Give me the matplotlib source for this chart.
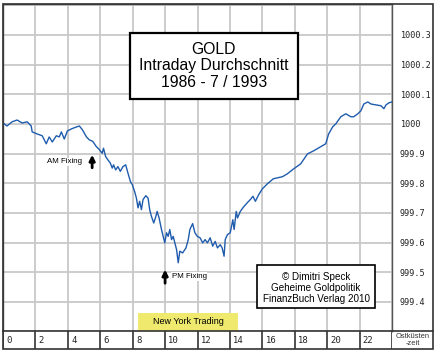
import matplotlib
matplotlib.use("Agg")
import matplotlib.pyplot as plt
from matplotlib.patches import Rectangle
import numpy as np

#---------------- data ------------
# Stunde (Ostkuestenzeit) und Index
stunden = [0.00, 0.25, 0.56, 0.87, 1.18, 1.49, 1.74, 1.80, 2.11, 2.42, 2.67, 2.85,
           3.04, 3.29, 3.47, 3.60, 3.78, 3.97, 4.22, 4.40, 4.71, 4.90, 5.15,
           5.33, 5.54, 5.75, 5.95, 6.12, 6.20, 6.33, 6.47, 6.62, 6.74, 6.82, 6.95,
           7.09, 7.24, 7.40, 7.57, 7.71, 7.86, 7.98, 8.12, 8.23, 8.33, 8.43, 8.54,
           8.64, 8.81, 8.95, 9.05, 9.16, 9.30, 9.43, 9.51, 9.63, 9.78, 9.88, 9.98,
           10.09, 10.19, 10.29, 10.40, 10.50, 10.60, 10.71, 10.81, 10.91, 11.08, 11.29, 11.43,
           11.53, 11.70, 11.84, 11.99, 12.16, 12.32, 12.47, 12.61, 12.78, 12.94, 13.09, 13.23,
           13.40, 13.52, 13.64, 13.71, 13.85, 14.02, 14.18, 14.26, 14.39, 14.47, 14.64, 14.84,
           15.05, 15.26, 15.42, 15.57, 15.77, 16.00, 16.31, 16.68, 17.24, 17.55, 17.92,
           18.36, 18.79, 19.16, 19.60, 19.91, 20.09, 20.34, 20.53, 20.84, 21.15, 21.46, 21.64,
           21.89, 22.08, 22.26, 22.51, 22.70, 23.01, 23.32, 23.50, 23.63, 23.81, 24.00]
index = [1000.003, 999.993, 1000.007, 1000.013, 1000.003, 1000.007, 999.993, 999.973, 999.966, 999.960, 999.933, 999.956,
         999.939, 999.960, 999.956, 999.973, 999.949, 999.976, 999.983, 999.987, 999.993, 999.980, 999.956,
         999.946, 999.941, 999.924, 999.913, 999.901, 999.918, 999.890, 999.879, 999.868, 999.851, 999.862, 999.845,
         999.856, 999.840, 999.856, 999.862, 999.834, 999.806, 999.795, 999.772, 999.750, 999.717, 999.739, 999.711,
         999.745, 999.758, 999.750, 999.711, 999.688, 999.666, 999.688, 999.705, 999.683, 999.644, 999.621, 999.599,
         999.633, 999.621, 999.644, 999.610, 999.621, 999.599, 999.576, 999.532, 999.571, 999.565, 999.582, 999.610,
         999.644, 999.664, 999.633, 999.621, 999.616, 999.599, 999.610, 999.599, 999.616, 999.588, 999.604, 999.582,
         999.593, 999.582, 999.554, 999.610, 999.627, 999.633, 999.677, 999.644, 999.705, 999.683, 999.705, 999.720,
         999.733, 999.745, 999.756, 999.739, 999.761, 999.781, 999.798, 999.815, 999.822, 999.832, 999.848,
         999.865, 999.899, 999.909, 999.923, 999.933, 999.966, 999.990, 1000.000, 1000.024, 1000.034, 1000.024, 1000.024,
         1000.034, 1000.044, 1000.067, 1000.074, 1000.067, 1000.064, 1000.061, 1000.051, 1000.064, 1000.071, 1000.074]

x_ticks = list(range(0, 24, 2))
y_ticks = [999.4, 999.5, 999.6, 999.7, 999.8, 999.9, 1000.0, 1000.1, 1000.2, 1000.3]
y_labels = ["999.4", "999.5", "999.6", "999.7", "999.8", "999.9", "1000", "1000.1", "1000.2", "1000.3"]

am_fixing = 5.5
pm_fixing = 10.0
ny_trading = (8.33, 14.5)

#---------------- plot ------------
W, H = 440, 352
fig = plt.figure(figsize=(4.4, 3.52), dpi=100)

def fx(px):
    return px / W

def fy(py):
    return 1 - py / H

ax = fig.add_axes([fx(3), fy(331), fx(392) - fx(3), fy(4) - fy(331)])
ax.plot(stunden, index, color="#1f5cae", lw=1.0, zorder=3)
ax.set_xlim(0, 24)
ax.set_ylim(999.302, 1000.404)
ax.set_xticks(list(range(0, 25, 2)))
ax.set_yticks(y_ticks + [1000.4])
ax.grid(True, color="#c8c8c8", lw=1.3, zorder=0)
ax.set_axisbelow(True)
ax.set_yticklabels(y_labels + [""], family="DejaVu Sans Mono", fontsize=6.1, color="#222222")
ax.tick_params(axis="x", length=0, labelbottom=False)
ax.tick_params(axis="y", length=0, left=False, right=False, labelleft=False, labelright=True, pad=5.6)
for s in ax.spines.values():
    s.set_color("#555555")
    s.set_linewidth(1.0)

# titel
ax.add_patch(Rectangle((0.3265, 0.7095), 0.4315, 0.2015, transform=ax.transAxes,
                       facecolor="white", edgecolor="black", lw=1.6, zorder=5))
ax.text(0.542, 0.811, "GOLD\nIntraday Durchschnitt\n1986 - 7 / 1993", transform=ax.transAxes,
        ha="center", va="center", family="Liberation Sans", fontsize=11.3,
        linespacing=1.12, zorder=6)

# copyright
ax.add_patch(Rectangle(((257 - 3) / 389, (331 - 308) / 327), 118 / 389, 43 / 327,
                       transform=ax.transAxes, facecolor="white", edgecolor="black", lw=1.2, zorder=5))
ax.text((316 - 3) / 389, (331 - 288) / 327, "© Dimitri Speck\nGeheime Goldpolitik\nFinanzBuch Verlag 2010",
        transform=ax.transAxes, ha="center", va="center", family="Liberation Sans",
        fontsize=7.1, linespacing=1.1, zorder=6)

# fixings
pfeil = dict(arrowstyle="-|>", lw=2.0, color="black", mutation_scale=8, shrinkA=0, shrinkB=0)
ax.annotate("", xy=(am_fixing, 999.896), xytext=(am_fixing, 999.852), arrowprops=pfeil, zorder=6)
ax.text(am_fixing - 0.6, 999.872, "AM Fixing", ha="right", va="center", family="Liberation Sans",
        fontsize=5.7, zorder=6, bbox=dict(facecolor="white", edgecolor="none", pad=0.5))
ax.annotate("", xy=(pm_fixing, 999.509), xytext=(pm_fixing, 999.463), arrowprops=pfeil, zorder=6)
ax.text(pm_fixing + 0.4, 999.485, "PM Fixing", ha="left", va="center", family="Liberation Sans",
        fontsize=5.7, zorder=6, bbox=dict(facecolor="white", edgecolor="none", pad=0.5))

# new york trading
y0, y1 = ax.get_ylim()
ax.add_patch(Rectangle((ny_trading[0], y0), ny_trading[1] - ny_trading[0], (y1 - y0) * 18 / 327,
                       facecolor="#efea6e", edgecolor="none", zorder=4))
ax.text(sum(ny_trading) / 2, y0 + (y1 - y0) * 9 / 327, "New York Trading", ha="center", va="center",
        family="Liberation Sans", fontsize=6.5, zorder=6)

# x-achse als band
bx = fig.add_axes([fx(3), fy(349), fx(392) - fx(3), fy(331) - fy(349)])
bx.set_xlim(0, 24)
bx.set_ylim(0, 1)
bx.set_xticks([])
bx.set_yticks([])
for s in bx.spines.values():
    s.set_visible(False)
for t in x_ticks:
    bx.axvline(t, color="#333333", lw=1.2)
    bx.text(t + 0.2, 0.45, str(t), ha="left", va="center", family="DejaVu Sans Mono",
            fontsize=6.4, color="#222222")
bx.axvline(24, color="#333333", lw=1.2)

fig.text(fx(413), fy(340), "Ostküsten\n-zeit", ha="center", va="center",
         family="Liberation Sans", fontsize=5.4, linespacing=0.95, color="#333333")

# rahmen
fig.add_artist(Rectangle((fx(3), fy(349)), fx(433) - fx(3), fy(4) - fy(349), transform=fig.transFigure,
                         facecolor="none", edgecolor="#333333", lw=1.2))
fig.add_artist(plt.Line2D([fx(3), fx(433)], [fy(331), fy(331)], transform=fig.transFigure,
                          color="#333333", lw=1.2))

fig.savefig("out.png", dpi=100)
